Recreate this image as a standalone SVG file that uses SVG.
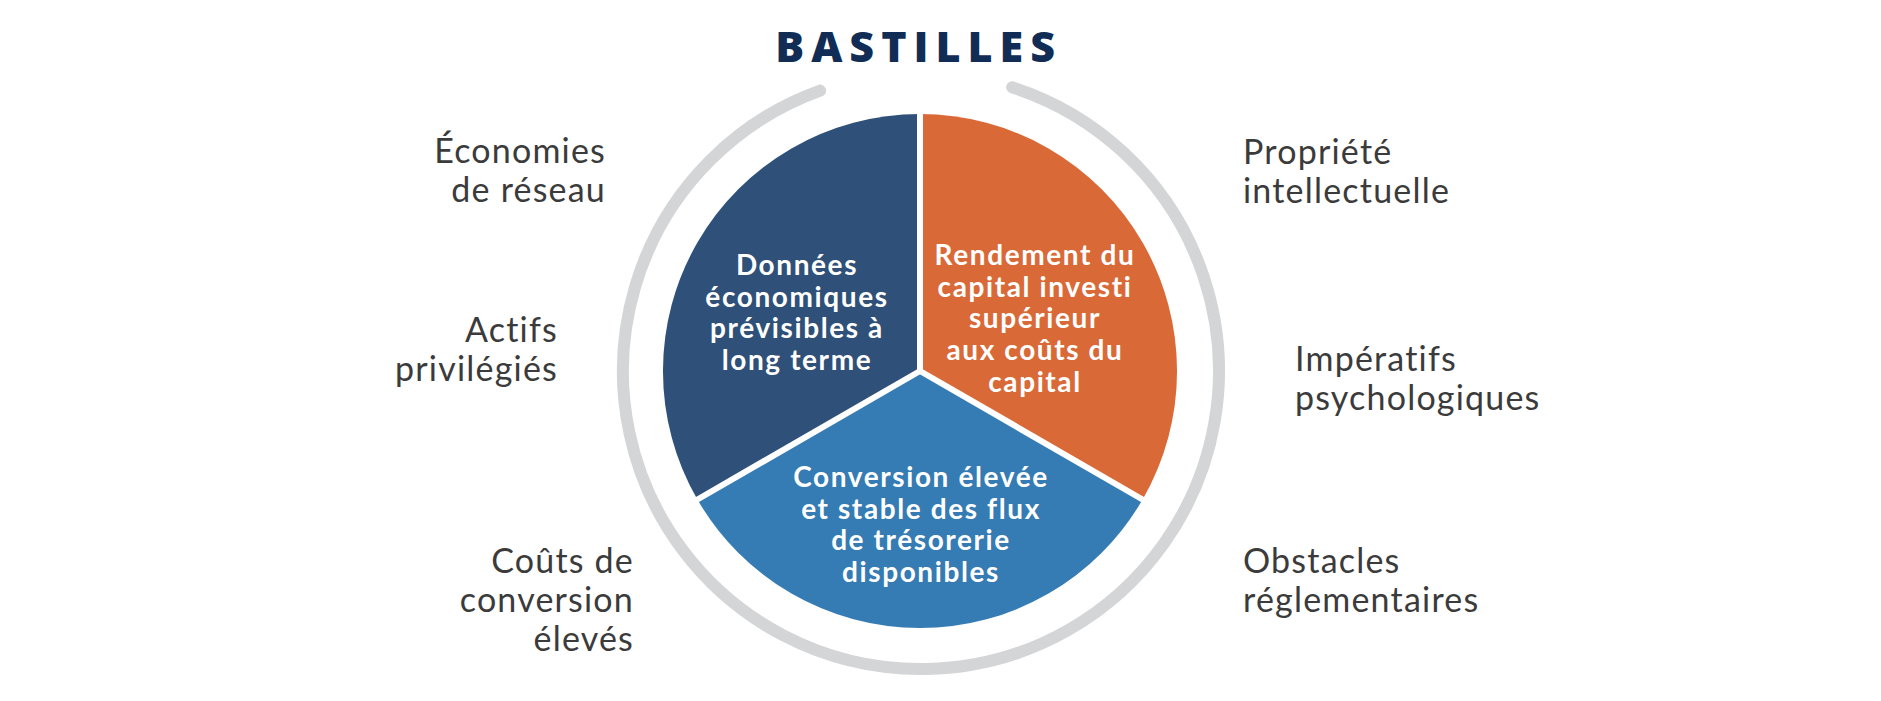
<svg xmlns="http://www.w3.org/2000/svg" width="1881" height="701" viewBox="0 0 1881 701">
<style>
.lbl{font-family:Lato,"Liberation Sans",sans-serif;font-size:34px;fill:#3b3b3b;letter-spacing:1.2px}
.l{text-anchor:end}
.in{font-family:Lato,"Liberation Sans",sans-serif;font-weight:bold;font-size:28px;fill:#ffffff;text-anchor:middle;letter-spacing:1.6px}
.title{font-family:"Open Sans","Liberation Sans",sans-serif;font-weight:800;font-size:43px;fill:#112d55;text-anchor:middle;letter-spacing:7px}
.div{stroke:#ffffff;stroke-width:6;fill:none}
</style>
<rect width="1881" height="701" fill="#ffffff"/>
<text class="title" x="918.6" y="62">BASTILLES</text>
<path id="ring" d="M1012.1,87.3 A298,298 0 1 1 820.1,90.6" fill="none" stroke="#d4d5d7" stroke-width="12" stroke-linecap="round"/>
<g id="sector-left">
<path d="M920,371 L920,114 A257,257 0 0 0 697.4,499.5 Z" fill="#2f5079"/>
<text class="in"><tspan x="797" y="275">Données</tspan><tspan x="797" y="306.7">économiques</tspan><tspan x="797" y="338.4">prévisibles à</tspan><tspan x="797" y="370.1">long terme</tspan></text>
</g>
<g id="sector-right">
<path d="M920,371 L920,114 A257,257 0 0 1 1142.6,499.5 Z" fill="#d96a38"/>
<text class="in"><tspan x="1035" y="265">Rendement du</tspan><tspan x="1035" y="296.7">capital investi</tspan><tspan x="1035" y="328.4">supérieur</tspan><tspan x="1035" y="360.1">aux coûts du</tspan><tspan x="1035" y="391.8">capital</tspan></text>
</g>
<g id="sector-bottom">
<path d="M920,371 L697.4,499.5 A257,257 0 0 0 1142.6,499.5 Z" fill="#357bb4"/>
<text class="in"><tspan x="921" y="487">Conversion élevée</tspan><tspan x="921" y="518.7">et stable des flux</tspan><tspan x="921" y="550.4">de trésorerie</tspan><tspan x="921" y="582.1">disponibles</tspan></text>
</g>
<g id="dividers">
<line class="div" x1="920" y1="371" x2="920" y2="110"/>
<line class="div" x1="920" y1="371" x2="694" y2="501.5"/>
<line class="div" x1="920" y1="371" x2="1146" y2="501.5"/>
</g>
<g id="label-economies"><text class="lbl l"><tspan x="606" y="163">Économies</tspan><tspan x="606" y="202">de réseau</tspan></text></g>
<g id="label-actifs"><text class="lbl l"><tspan x="558" y="342">Actifs</tspan><tspan x="558" y="381">privilégiés</tspan></text></g>
<g id="label-couts"><text class="lbl l"><tspan x="634" y="573">Coûts de</tspan><tspan x="634" y="612">conversion</tspan><tspan x="634" y="651">élevés</tspan></text></g>
<g id="label-propriete"><text class="lbl"><tspan x="1243" y="164">Propriété</tspan><tspan x="1243" y="203">intellectuelle</tspan></text></g>
<g id="label-imperatifs"><text class="lbl"><tspan x="1295" y="371">Impératifs</tspan><tspan x="1295" y="410">psychologiques</tspan></text></g>
<g id="label-obstacles"><text class="lbl"><tspan x="1243" y="573">Obstacles</tspan><tspan x="1243" y="612">réglementaires</tspan></text></g>
</svg>
